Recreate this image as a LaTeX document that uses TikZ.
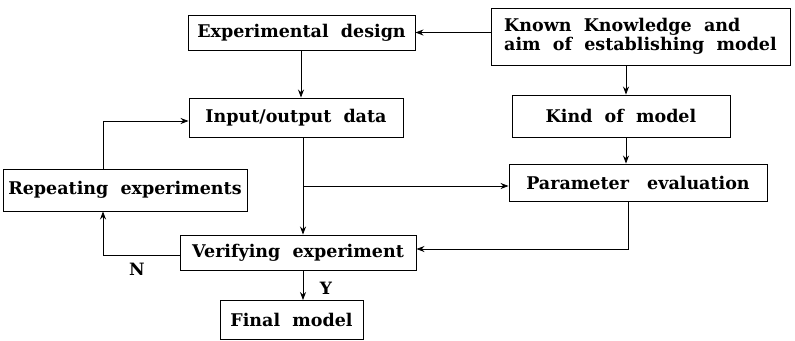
\documentclass[tikz,border=0pt]{standalone}
\usepackage{fontspec}
\setmainfont{DejaVu Serif}
\usetikzlibrary{arrows.meta}
\tikzset{
  box/.style={draw, line width=0.9pt, inner sep=0pt, font=\bfseries\fontsize{17.5}{19}\selectfont, align=left},
  conn/.style={line width=0.8pt, -{Stealth[length=8pt,width=6pt]}},
  lbl/.style={font=\bfseries\fontsize{17}{19}\selectfont, inner sep=0pt}
}
\begin{document}
\begin{tikzpicture}[x=1pt,y=-1pt]
\useasboundingbox (0,0) rectangle (795,340);
\node[box, minimum width=227pt, minimum height=35pt] (ed) at (301.5,32.5) {Experimental\ \ design};
\node[box, minimum width=299pt, minimum height=57pt] (kk) at (640.5,36.5) {Known\ \ Knowledge\ \ and\\aim\ \ of\ \ establishing\ \ model};
\node[box, minimum width=214pt, minimum height=39pt] (io) at (296,117.5) {Input/output\ \ data};
\node[box, minimum width=218pt, minimum height=42pt] (km) at (621,116) {Kind\ \ of\ \ model};
\node[box, minimum width=244pt, minimum height=42pt] (re) at (125,190) {Repeating\ \ experiments};
\node[box, minimum width=258pt, minimum height=37pt] (pe) at (638,182.5) {Parameter\ \ \ evaluation};
\node[box, minimum width=236pt, minimum height=35pt] (ve) at (298,252.5) {Verifying\ \ experiment};
\node[box, minimum width=143pt, minimum height=39pt] (fm) at (291.5,320) {Final\ \ model};
\coordinate (br) at (303,186);
\coordinate (pc) at (628,249);
\coordinate (nc) at (103,255);
\coordinate (rc) at (103,121);
\draw[conn] (kk.west |- ed.east) -- (ed.east);
\draw[conn] (ed.south -| 301,0) -- (io.north -| 301,0);
\draw[conn] (kk.south -| 626,0) -- (km.north -| 626,0);
\draw[conn] (km.south -| 626,0) -- (pe.north -| 626,0);
\draw[conn] (io.south -| br) -- (ve.north -| br);
\draw[conn] (br) -- (pe.west |- br);
\draw[conn] (pe.south -| pc) -- (pc) -- (ve.east |- pc);
\draw[conn] (ve.west |- nc) -- (nc) -- (re.south -| nc);
\draw[conn] (re.north -| rc) -- (rc) -- (io.west |- rc);
\draw[conn] (ve.south -| br) -- (fm.north -| br);
\node[lbl] (n) at (137,269) {N};
\node[lbl] (y) at (326,288) {Y};
\end{tikzpicture}
\end{document}
